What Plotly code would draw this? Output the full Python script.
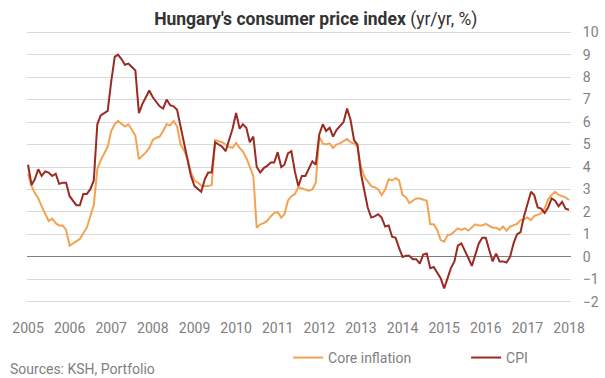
import pandas as pd
import plotly.graph_objects as go

# Monthly data, Jan 2005 .. Jan 2018
months = pd.date_range("2005-01-01", "2018-01-01", freq="MS")

cpi = [
    4.1, 3.2, 3.45, 3.9, 3.6, 3.8, 3.75, 3.6, 3.7, 3.25, 3.3, 3.3,      # 2005
    2.7, 2.5, 2.3, 2.3, 2.8, 2.8, 3.0, 3.4, 5.9, 6.3, 6.4, 6.5,          # 2006
    7.8, 8.9, 9.0, 8.8, 8.55, 8.6, 8.45, 8.3, 6.4, 6.8, 7.1, 7.4,        # 2007
    7.1, 6.9, 6.7, 6.6, 7.0, 6.75, 6.7, 6.55, 5.8, 5.1, 4.2, 3.6,        # 2008
    3.15, 3.0, 2.9, 3.45, 3.75, 3.75, 5.1, 5.0, 4.9, 4.7, 5.2, 5.7,      # 2009
    6.4, 5.7, 5.9, 5.75, 5.1, 5.35, 4.0, 3.75, 3.95, 4.05, 4.2, 4.2,     # 2010
    4.66, 4.0, 4.1, 4.6, 4.7, 3.8, 3.15, 3.6, 3.6, 3.9, 4.25, 4.1,       # 2011
    5.45, 5.9, 5.6, 5.75, 5.35, 5.65, 5.8, 6.0, 6.6, 6.1, 5.2, 5.0,      # 2012
    3.7, 2.9, 2.2, 1.75, 1.8, 1.9, 1.75, 1.35, 1.4, 0.9, 0.85, 0.4,      # 2013
    0.0, 0.05, 0.05, -0.1, -0.1, -0.3, 0.1, 0.15, -0.5, -0.45, -0.7, -0.95,  # 2014
    -1.4, -0.9, -0.5, -0.2, 0.5, 0.6, 0.3, -0.05, -0.4, 0.05, 0.6, 0.85,     # 2015
    0.85, 0.3, -0.2, 0.15, -0.2, -0.2, -0.25, 0.0, 0.6, 1.0, 1.1, 1.8,       # 2016
    2.3, 2.9, 2.75, 2.2, 2.15, 1.95, 2.2, 2.6, 2.5, 2.25, 2.45, 2.15,        # 2017
    2.1,                                                                     # 2018
]

core = [
    3.7, 3.15, 2.85, 2.6, 2.25, 1.9, 1.6, 1.7, 1.5, 1.4, 1.4, 1.2,       # 2005
    0.5, 0.6, 0.7, 0.8, 1.05, 1.3, 1.8, 2.3, 3.9, 4.3, 4.6, 4.9,         # 2006
    5.6, 5.9, 6.05, 5.9, 5.8, 5.9, 5.65, 5.4, 4.35, 4.5, 4.65, 4.85,     # 2007
    5.2, 5.3, 5.35, 5.6, 5.9, 5.85, 6.05, 5.8, 5.0, 4.75, 4.35, 3.75,    # 2008
    3.4, 3.3, 3.17, 3.15, 3.15, 3.2, 5.2, 5.15, 5.1, 5.0, 4.9, 4.85,     # 2009
    5.07, 4.85, 4.7, 4.4, 4.0, 3.6, 1.3, 1.45, 1.5, 1.6, 1.8, 1.95,      # 2010
    2.0, 1.75, 1.9, 2.5, 2.7, 2.8, 3.1, 3.05, 3.0, 2.95, 3.0, 3.3,       # 2011
    5.35, 5.05, 5.0, 5.05, 4.85, 5.0, 5.05, 5.15, 5.25, 5.1, 5.05, 4.9,  # 2012
    4.0, 3.55, 3.35, 3.15, 3.1, 3.0, 2.75, 3.0, 3.45, 3.4, 3.5, 3.4,     # 2013
    2.75, 2.65, 2.4, 2.5, 2.6, 2.6, 2.55, 2.5, 1.45, 1.45, 1.2, 0.75,    # 2014
    0.68, 0.98, 1.0, 1.13, 1.27, 1.2, 1.27, 1.17, 1.3, 1.45, 1.4, 1.4,   # 2015
    1.47, 1.38, 1.3, 1.3, 1.2, 1.35, 1.17, 1.35, 1.42, 1.47, 1.64, 1.67, # 2016
    1.76, 1.64, 1.82, 1.87, 1.94, 2.16, 2.56, 2.76, 2.9, 2.76, 2.7, 2.65,# 2017
    2.53,                                                                # 2018
]

year_ticks = [f"{y}-01-01" for y in range(2005, 2019)]
year_labels = [str(y) for y in range(2005, 2019)]
y_ticks = list(range(-2, 11))

CORE_COLOR = "#F2A252"
CPI_COLOR = "#9A2B22"
GRAY = "#808080"

fig = go.Figure()
fig.add_trace(go.Scatter(x=months, y=core, mode="lines", name="Core inflation",
                         line=dict(color=CORE_COLOR, width=2)))
fig.add_trace(go.Scatter(x=months, y=cpi, mode="lines", name="CPI",
                         line=dict(color=CPI_COLOR, width=2)))

fig.update_layout(
    width=605, height=378,
    margin=dict(l=27, r=34, t=31, b=75, autoexpand=False),
    paper_bgcolor="white", plot_bgcolor="white",
    font=dict(family="Roboto, sans-serif", color=GRAY, size=14),
    title=dict(
        text="<b>Hungary's consumer price index</b> (yr/yr, %)",
        x=0.522, xanchor="center", y=0.95, yanchor="middle",
        font=dict(size=17.5, color="#333333", family="Roboto, sans-serif"),
    ),
    xaxis=dict(
        range=["2004-12-23", "2018-01-18"],
        tickvals=year_ticks, ticktext=year_labels, tickangle=0,
        automargin=False,
        showgrid=False, zeroline=False, showline=False,
        ticks="outside", ticklen=12, tickcolor="rgba(0,0,0,0)",
        tickfont=dict(size=14, color=GRAY),
    ),
    yaxis=dict(
        side="right", range=[-2.05, 10.05],
        tickvals=y_ticks, automargin=False,
        showgrid=True, gridcolor="#D9D9D9", gridwidth=1,
        zeroline=True, zerolinecolor="#7F7F7F", zerolinewidth=1,
        showline=False,
        ticks="outside", ticklen=8, tickcolor="rgba(0,0,0,0)",
        tickfont=dict(size=14, color=GRAY),
    ),
    legend=dict(
        orientation="h", x=0.48, xanchor="left", y=-0.202, yanchor="middle",
        font=dict(size=14, color=GRAY),
        entrywidth=133, entrywidthmode="pixels",
        bgcolor="rgba(0,0,0,0)",
    ),
    annotations=[dict(
        text="Sources: KSH, Portfolio", xref="paper", yref="paper",
        x=-19/544, xanchor="left", y=-0.243, yanchor="middle",
        showarrow=False, font=dict(size=14, color=GRAY),
    )],
)

fig.write_html("out.html",
               config={"displayModeBar": False},
               post_script="document.body.style.margin='0';document.body.style.overflow='hidden';")
